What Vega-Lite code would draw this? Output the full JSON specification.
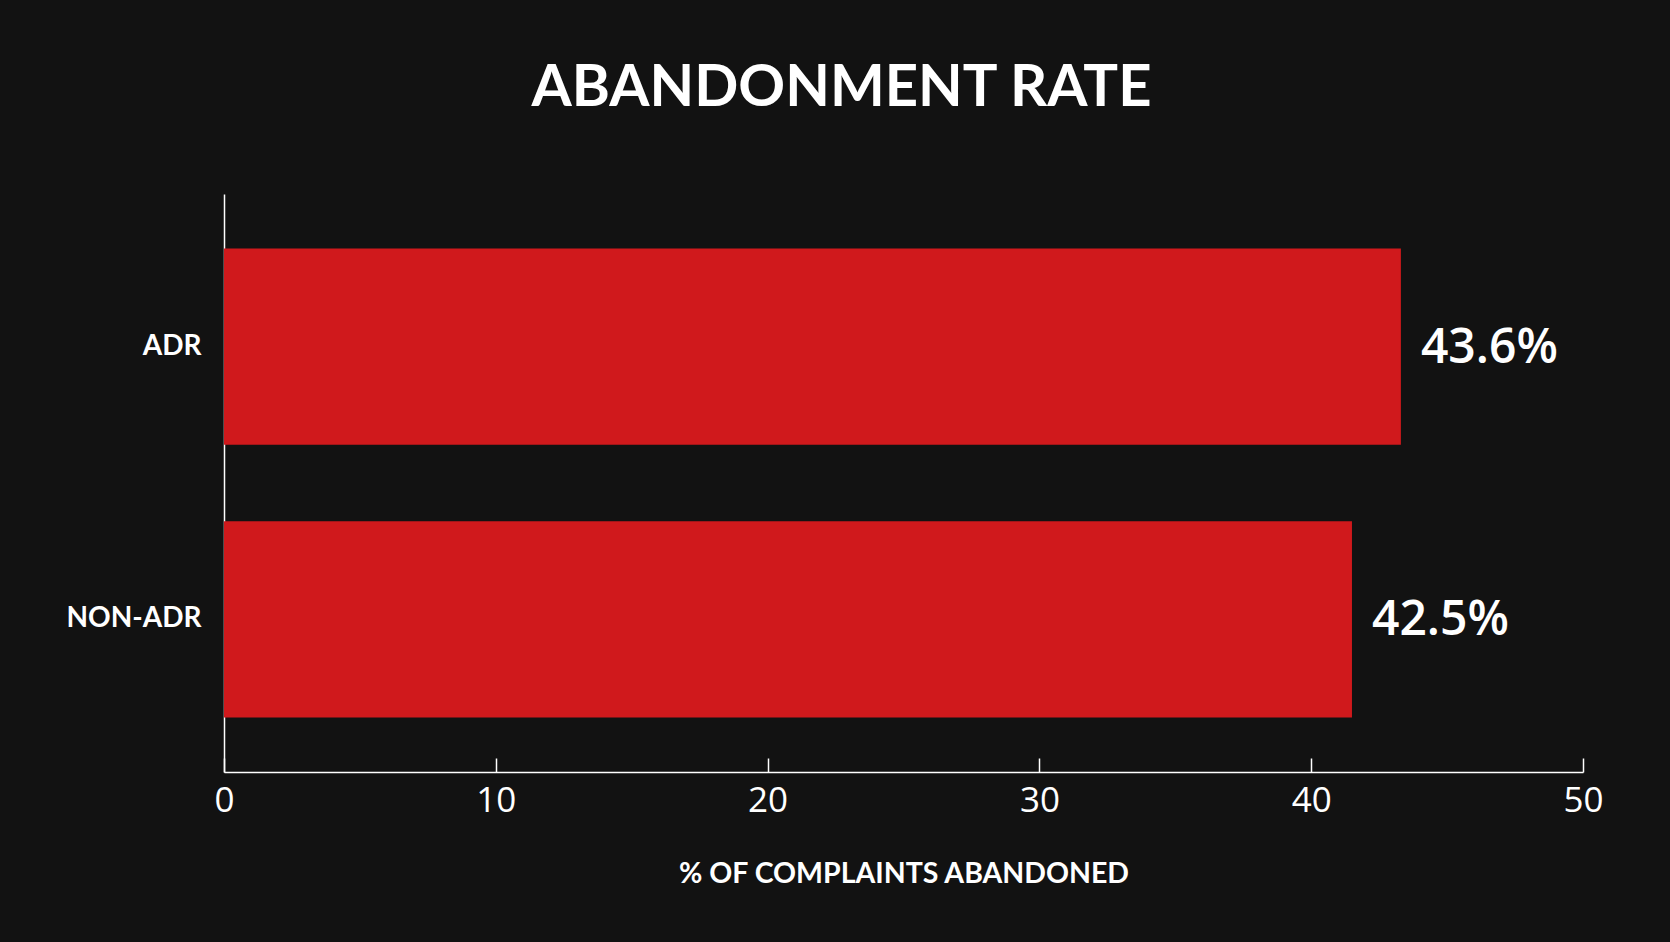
{
  "$schema": "https://vega.github.io/schema/vega-lite/v6.json",
  "autosize": {"type": "none"},
  "padding": {"left": 224, "top": 194, "right": 87, "bottom": 170},
  "width": 1359,
  "height": 578,
  "background": "#121212",
  "title": {
    "text": "ABANDONMENT RATE",
    "font": "Lato",
    "fontSize": 58,
    "fontWeight": "bold",
    "color": "#ffffff",
    "anchor": "middle",
    "dx": -62,
    "offset": 76
  },
  "data": {
    "values": [
      {"group": "ADR", "rate": 43.3, "label": "43.6%"},
      {"group": "NON-ADR", "rate": 41.5, "label": "42.5%"}
    ]
  },
  "encoding": {
    "y": {
      "field": "group",
      "type": "nominal",
      "sort": null,
      "title": null,
      "scale": {"paddingInner": 0.28, "paddingOuter": 0.2},
      "axis": {
        "ticks": false,
        "domainColor": "#ffffff",
        "domainWidth": 1.5,
        "labelColor": "#ffffff",
        "labelFont": "Lato",
        "labelFontWeight": "bold",
        "labelFontSize": 28,
        "labelPadding": 23
      }
    },
    "x": {
      "field": "rate",
      "type": "quantitative",
      "title": "% OF COMPLAINTS ABANDONED",
      "scale": {"domain": [0, 50]},
      "axis": {
        "values": [0, 10, 20, 30, 40, 50],
        "grid": false,
        "labelFlush": false,
        "domainColor": "#ffffff",
        "domainWidth": 1.5,
        "tickColor": "#ffffff",
        "tickWidth": 1.5,
        "tickSize": -14,
        "labelColor": "#ffffff",
        "labelFont": "Open Sans",
        "labelFontSize": 35,
        "labelPadding": 25,
        "titleColor": "#ffffff",
        "titleFont": "Lato",
        "titleFontWeight": "bold",
        "titleFontSize": 28.5,
        "titlePadding": 41
      }
    }
  },
  "layer": [
    {
      "mark": {"type": "bar", "color": "#d0191c"}
    },
    {
      "mark": {
        "type": "text",
        "align": "left",
        "baseline": "middle",
        "dx": 20,
        "dy": 2,
        "font": "Open Sans",
        "fontSize": 48,
        "fontWeight": 600,
        "color": "#ffffff"
      },
      "encoding": {"text": {"field": "label"}}
    }
  ],
  "config": {"view": {"stroke": null}}
}
